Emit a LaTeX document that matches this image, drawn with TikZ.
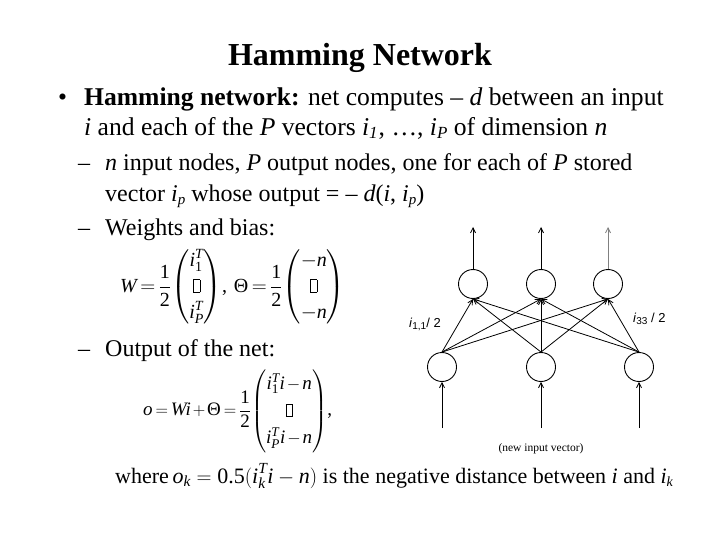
\documentclass[tikz,border=0pt]{standalone}
\usepackage{amsmath}
\usepackage{fontspec}
\setmainfont{Liberation Serif}
\newfontfamily\lsans{Liberation Sans}
\usetikzlibrary{arrows.meta}
\newcommand{\vbx}{\text{\setlength{\fboxsep}{0pt}\setlength{\fboxrule}{0.5pt}\fbox{\rule{0pt}{0.62em}\hspace{0.3em}}}}
\newcommand{\mv}[1]{\text{\itshape #1}}
\newcommand{\mr}[1]{\text{#1}}
\newcommand{\hf}{\dfrac{\mr{1}}{\mr{2}}}
\newcommand{\tightmath}[1]{\thickmuskip=3mu\medmuskip=2mu\renewcommand{\arraystretch}{#1}}
\tikzset{
  neuron/.style={circle,draw,line width=0.9pt,minimum size=29pt,inner sep=0pt},
  conn/.style={line width=0.8pt,-{Straight Barb[length=5pt,width=5pt]}},
  txt/.style={anchor=base west,inner sep=0pt},
}
\begin{document}
\begin{tikzpicture}[x=1pt,y=-1pt]
\useasboundingbox (0,0) rectangle (720,540);
\fill[white] (0,0) rectangle (720,540);
\node[anchor=base,inner sep=0pt,font=\fontsize{32}{36}\selectfont\bfseries] (title) at (360,66) {Hamming Network};
\node[txt,font=\fontsize{25.6}{30}\selectfont] (b1) at (58,106) {•};
\node[txt,font=\fontsize{25.6}{30}\selectfont] (l1) at (84,106) {\textbf{Hamming network:} net computes -- \textit{d} between an input};
\node[txt,font=\fontsize{25.6}{30}\selectfont] (l2) at (84,136) {\textit{i} and each of the \textit{P} vectors \textit{i}\raisebox{-3pt}{\fontsize{17}{19}\selectfont\textit{1}}\kern1pt, \dots, \textit{i}\raisebox{-3pt}{\fontsize{17}{19}\selectfont\textit{P}} of dimension \textit{n}};
\node[txt,font=\fontsize{24}{28}\selectfont] (d1) at (78,171) {--};
\node[txt,font=\fontsize{24}{28}\selectfont] (l3) at (105,171) {\textit{n} input nodes, \textit{P} output nodes, one for each of \textit{P} stored};
\node[txt,font=\fontsize{24}{28}\selectfont] (l4) at (105,202) {vector \textit{i}\raisebox{-3pt}{\fontsize{15}{17}\selectfont\textit{p}} whose output = -- \textit{d}(\textit{i}, \textit{i}\raisebox{-3pt}{\fontsize{15}{17}\selectfont\textit{p}})};
\node[txt,font=\fontsize{24}{28}\selectfont] (d2) at (78,236) {--};
\node[txt,font=\fontsize{24}{28}\selectfont] (l5) at (105,236) {Weights and bias:};
\node[anchor=west,inner sep=0pt,font=\fontsize{20}{24}\selectfont] (eq1) at (120,287)
  {\tightmath{1.08}$\mv{W}=\hf\!\begin{pmatrix} \mv{i}_{\mr{1}}^{\mv{T}}\\ \vbx \\ \mv{i}_{\mv{P}}^{\mv{T}}\end{pmatrix}\!\mr{,}\;\;\mr{Θ}=\hf\!\begin{pmatrix} -\mv{n}\\ \vbx\\ -\mv{n}\end{pmatrix}$};
\node[txt,font=\fontsize{24}{28}\selectfont] (d3) at (78,356) {--};
\node[txt,font=\fontsize{24}{28}\selectfont] (l6) at (105,356) {Output of the net:};
\node[anchor=west,inner sep=0pt,font=\fontsize{19}{23}\selectfont] (eq2) at (143,411)
  {\tightmath{1.18}$\mv{o}=\mv{Wi}+\mr{Θ}=\hf\!\begin{pmatrix} \mv{i}_{\mr{1}}^{\mv{T}}\mv{i}-\mv{n}\\ \vbx \\ \mv{i}_{\mv{P}}^{\mv{T}}\mv{i}-\mv{n}\end{pmatrix}\!\mr{,}$};
\node[txt,font=\fontsize{22}{26}\selectfont] (l7) at (115,483) {where\,$\mv{o}_{\mv{k}}=\mr{0.5}(\mv{i}_{\mv{k}}^{\mv{T}}\mv{i}-\mv{n})$ is the negative distance between \textit{i} and \textit{i}\raisebox{-3pt}{\fontsize{14}{16}\selectfont\textit{k}}};
% network
\node[neuron] (o1) at (473,284) {};
\node[neuron] (o2) at (541,284) {};
\node[neuron] (o3) at (608,284) {};
\node[neuron] (n1) at (442,367) {};
\node[neuron] (n2) at (541,367) {};
\node[neuron] (n3) at (639,367) {};
\coordinate (t1) at (473,227);
\coordinate (t2) at (541,227);
\coordinate (t3) at (608,227);
\coordinate (s1) at (442,428);
\coordinate (s2) at (541,428);
\coordinate (s3) at (639,428);
\draw[conn] (o1) -- (t1);
\draw[conn] (o2) -- (t2);
\draw[conn,draw=gray] (o3) -- (t3);
\draw[conn] (s1) -- (n1);
\draw[conn] (s2) -- (n2);
\draw[conn] (s3) -- (n3);
\foreach \a in {1,2,3}{
  \foreach \b in {1,2,3}{
    \draw[conn] (n\a.north) -- (o\b.south);
  }
}
\node[anchor=base west,inner sep=0pt,font=\lsans\fontsize{13}{15}\selectfont] (lab1) at (409,327) {\textit{i}\raisebox{-2pt}{\fontsize{10}{11}\selectfont 1,1}/ 2};
\node[anchor=base west,inner sep=0pt,font=\lsans\fontsize{13}{15}\selectfont] (lab2) at (633,322) {\textit{i}\raisebox{-2pt}{\fontsize{10}{11}\selectfont 33} / 2};
\node[anchor=base,inner sep=0pt,font=\fontsize{11.5}{13}\selectfont] (nv) at (541,451) {(new input vector)};
\end{tikzpicture}
\end{document}
